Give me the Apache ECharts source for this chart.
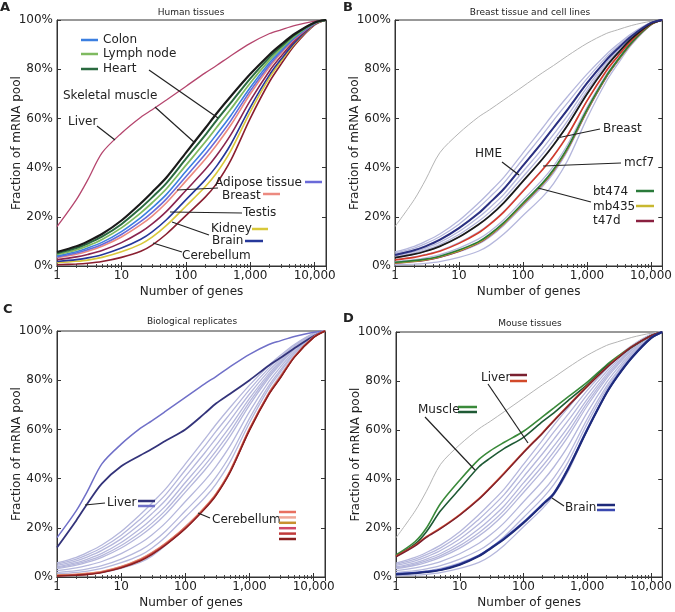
<!DOCTYPE html>
<html>
<head>
<meta charset="utf-8">
<title>Fraction of mRNA pool</title>
<script src="https://cdn.jsdelivr.net/npm/echarts@6/dist/echarts.min.js"></script>
<style>
  html, body { margin: 0; padding: 0; background: #fff; }
  #chart { width: 675px; height: 612px; }
</style>
</head>
<body>
<div id="chart"></div>
<script>
// number of genes (x) shared by every curve
var genes = [1, 2, 3, 5, 10, 20, 30, 50, 100, 200, 300, 500, 1000, 2000, 3000, 5000, 10000, 15000];
var xTicks = [1, 10, 100, 1000, 10000];
var yTicks = [0, 20, 40, 60, 80, 100];

// A - human tissues (% of mRNA pool)
var skeletalMuscle = [5.7, 8, 10, 13, 18.5, 25.5, 30, 36, 46, 56, 62, 69, 78, 86, 90, 94.5, 99, 100];
var heart          = [5.2, 7.3, 9.1, 11.9, 17, 23.6, 27.9, 33.7, 43.5, 53.2, 59.2, 66.4, 76.2, 84.9, 89.2, 94.1, 98.9, 100];
var lymphNode      = [4.7, 6.6, 8.2, 10.8, 15.5, 21.6, 25.7, 31.4, 40.9, 50.4, 56.3, 63.8, 74.4, 83.8, 88.4, 93.6, 98.8, 100];
var colon          = [4.1, 5.8, 7.3, 9.6, 14, 19.7, 23.6, 29.1, 38.4, 47.6, 53.5, 61.2, 72.6, 82.7, 87.6, 93.2, 98.7, 100];
var adipose        = [3.7, 5.3, 6.6, 8.7, 12.8, 18.1, 21.8, 27.3, 36.3, 45.4, 51.2, 59.1, 71.2, 81.8, 87, 92.8, 98.6, 100];
var breast         = [3.4, 4.8, 6, 8, 11.8, 16.8, 20.3, 25.7, 34.5, 43.4, 49.2, 57.3, 69.9, 81, 86.4, 92.5, 98.6, 100];
var testis         = [2.6, 3.7, 4.7, 6.3, 9.5, 13.8, 17.1, 22.2, 30.7, 39.2, 44.9, 53.4, 67.2, 79.4, 85.2, 91.8, 98.4, 100];
var brain          = [1.8, 2.6, 3.3, 4.6, 7.3, 10.9, 13.9, 18.8, 26.9, 35, 40.6, 49.5, 64.5, 77.8, 84, 91.1, 98.3, 100];
var kidney         = [1.3, 1.9, 2.4, 3.5, 5.8, 8.9, 11.7, 16.5, 24.3, 32.2, 37.8, 46.9, 62.7, 76.7, 83.2, 90.7, 98.2, 100];
var cerebellum     = [0.5, 0.8, 1.1, 1.8, 3.5, 6, 8.5, 13, 20.5, 28, 33.5, 43, 60, 75, 82, 90, 98, 100];
var liver          = [16, 27, 35, 46, 54, 60.5, 63.5, 67.5, 73, 78.5, 81.5, 85.5, 90.5, 94.5, 96, 97.8, 99.5, 100];

// B - breast tissue and cell lines
var hme   = [4.5, 6.4, 8, 10.6, 15.4, 21.3, 25.6, 31.3, 40.8, 50.3, 56.2, 63.7, 74.3, 83.7, 88.3, 93.5, 98.8, 100];
var mcf7  = [2.5, 3.5, 4.5, 6, 9.2, 13.4, 16.8, 21.9, 30.4, 39, 44.7, 53.2, 67.1, 79.3, 85.1, 91.8, 98.4, 100];
var bt474 = [1.5, 2.2, 2.8, 4, 6.5, 9.8, 12.8, 17.6, 25.6, 33.6, 39.2, 48.2, 63.6, 77.2, 83.6, 90.9, 98.2, 100];
var mb435 = [1.3, 2, 2.6, 3.8, 6.2, 9.5, 12.5, 17.3, 25.3, 33.3, 38.9, 47.9, 63.3, 77, 83.4, 90.8, 98.2, 100];
var t47d  = [1.1, 1.8, 2.4, 3.6, 6, 9.3, 12.3, 17.1, 25.1, 33.1, 38.7, 47.7, 63.1, 76.8, 83.3, 90.7, 98.1, 100];

// C - biological replicates
var liverRep2 = [12, 23, 30, 38, 45, 49.5, 52, 55.5, 60, 66.5, 70.5, 74.5, 80, 86, 89, 93, 98, 100];
var cereRep1 = [0.8, 1.1, 1.5, 2.3, 4.3, 7.4, 9.9, 13.9, 20.4, 28.4, 33.9, 43.4, 60.4, 74.8, 81.3, 89.7, 97.6, 100];
var cereRep2 = [0.7, 1, 1.4, 2.2, 4.2, 7.2, 9.7, 13.7, 20.2, 28.2, 33.7, 43.2, 60.2, 74.7, 81.2, 89.6, 97.6, 100];
var cereRep3 = [0.6, 0.9, 1.3, 2.1, 4.1, 7.1, 9.6, 13.6, 20.1, 28.1, 33.6, 43.1, 60.1, 74.6, 81.1, 89.5, 97.5, 100];
var cereRep4 = [0.5, 0.8, 1.2, 2, 4, 7, 9.5, 13.5, 20, 28, 33.5, 43, 60, 74.5, 81, 89.5, 97.5, 100];
var cereRep5 = [0.5, 0.8, 1.1, 1.9, 3.8, 6.8, 9.3, 13.3, 19.8, 27.8, 33.3, 42.8, 59.8, 74.3, 80.9, 89.4, 97.4, 100];
var cereRep6 = [0.4, 0.7, 1, 1.8, 3.7, 6.6, 9.1, 13.1, 19.6, 27.6, 33.1, 42.6, 59.6, 74.1, 80.7, 89.3, 97.4, 100];

// D - mouse tissues
var muscleM1 = [9, 14.5, 20, 30, 39.5, 48, 51.5, 55, 59.5, 65.5, 69, 73.5, 79.5, 86.5, 90, 94, 98.5, 100];
var muscleM2 = [8.5, 13.5, 18.5, 27, 36, 45, 48.5, 52.5, 57, 63.5, 67, 72, 78.5, 86, 89.5, 93.8, 98.5, 100];
var liverM1  = [8.5, 13, 16.5, 20, 25.5, 32, 36.5, 42.5, 51, 59, 64, 70, 78, 85.5, 89.5, 94, 98.5, 100];
var liverM2  = [8.2, 12.7, 16.2, 19.7, 25.2, 31.7, 36.2, 42.2, 50.7, 58.7, 63.7, 69.7, 77.7, 85.3, 89.3, 93.9, 98.5, 100];
var brainM1  = [1, 1.5, 2, 2.8, 5, 8.5, 11.5, 15.5, 22, 29.5, 34, 44, 60, 75, 82, 89.5, 97.5, 100];
var brainM2  = [1.2, 1.7, 2.2, 3, 5.2, 8.7, 11.7, 15.8, 22.3, 29.8, 34.3, 44.3, 60.3, 75.2, 82.2, 89.6, 97.6, 100];

var background = [skeletalMuscle, heart, lymphNode, colon, adipose, breast, testis, brain, kidney, cerebellum];

var FONT = 'DejaVu Sans';
var LAV = '#b5b7dc';

function curve(name, ys, idx, color, width, z) {
  return {
    name: name, type: 'line', xAxisIndex: idx, yAxisIndex: idx,
    data: genes.map(function (g, i) { return [g, ys[i]]; }),
    smooth: 0.3, symbol: 'none', silent: true,
    lineStyle: { color: color, width: width },
    z: z || 3
  };
}

var series = [];
// A
series.push(curve('Liver', liver, 0, '#b5466e', 1.3));
series.push(curve('Cerebellum', cerebellum, 0, '#8a1f30', 1.6));
series.push(curve('Kidney', kidney, 0, '#d8c83a', 1.6));
series.push(curve('Brain', brain, 0, '#26389a', 1.6));
series.push(curve('Testis', testis, 0, '#8a2550', 1.6));
series.push(curve('Breast', breast, 0, '#ec8a80', 1.6));
series.push(curve('Adipose tissue', adipose, 0, '#6a6ad8', 1.6));
series.push(curve('Colon', colon, 0, '#3b7fe0', 1.6));
series.push(curve('Lymph node', lymphNode, 0, '#7fba60', 1.8));
series.push(curve('Heart', heart, 0, '#2a6a40', 2));
series.push(curve('Skeletal muscle', skeletalMuscle, 0, '#1a1a1a', 2.2));

// B, C, D light background curves
[1, 2, 3].forEach(function (k) {
  background.forEach(function (ys, j) {
    series.push(curve('bg' + k + '_' + j, ys, k, LAV, 1.3, 1));
  });
});
series.push(curve('gray', liver, 1, '#b4b4b4', 1, 1));
series.push(curve('gray', liver, 3, '#b4b4b4', 1, 1));

// B
series.push(curve('t47d', t47d, 1, '#8a2040', 1.6));
series.push(curve('mb435', mb435, 1, '#c8b830', 1.6));
series.push(curve('bt474', bt474, 1, '#2a7a3a', 1.6));
series.push(curve('mcf7', mcf7, 1, '#d43a2a', 1.6));
series.push(curve('Breast', breast, 1, '#1a1a1a', 1.8));
series.push(curve('HME', hme, 1, '#2a2f80', 2));

// C
series.push(curve('Liver 1', liver, 2, '#7070c8', 1.5));
series.push(curve('Liver 2', liverRep2, 2, '#33337a', 1.8));
series.push(curve('Cerebellum 1', cereRep1, 2, '#e87060', 1.4));
series.push(curve('Cerebellum 2', cereRep2, 2, '#f0a898', 1.4));
series.push(curve('Cerebellum 3', cereRep3, 2, '#c89030', 1.4));
series.push(curve('Cerebellum 4', cereRep4, 2, '#d04868', 1.4));
series.push(curve('Cerebellum 5', cereRep5, 2, '#c03a3a', 1.4));
series.push(curve('Cerebellum 6', cereRep6, 2, '#8a2020', 1.4));

// D
series.push(curve('Muscle 1', muscleM1, 3, '#3a8a3a', 1.6));
series.push(curve('Muscle 2', muscleM2, 3, '#1f5a35', 1.6));
series.push(curve('Liver 1', liverM1, 3, '#d24a2a', 1.6));
series.push(curve('Liver 2', liverM2, 3, '#7a2030', 1.4));
series.push(curve('Brain 1', brainM2, 3, '#3a48b0', 2));
series.push(curve('Brain 2', brainM1, 3, '#1e2a7a', 2));

var grids = [
  { left: 57, top: 20, width: 269, height: 246 },
  { left: 395, top: 20, width: 270, height: 246 },
  { left: 57, top: 331, width: 268, height: 246 },
  { left: 396, top: 332, width: 269, height: 245 }
];

function xLabel(v) {
  for (var i = 0; i < xTicks.length; i++) {
    if (Math.abs(v - xTicks[i]) < 1e-6 * xTicks[i]) return xTicks[i].toLocaleString('en-US');
  }
  return '';
}

var tickStyle = { inside: true, length: 4, lineStyle: { color: '#333' } };
var minorStyle = { show: true, splitNumber: 9, length: 2, lineStyle: { color: '#444' } };

var xAxes = grids.map(function (g, i) {
  return {
    type: 'log', logBase: 10, gridIndex: i, min: 1, max: 15000,
    name: 'Number of genes', nameLocation: 'middle', nameGap: 20, nameMoveOverlap: false,
    nameTextStyle: { fontFamily: FONT, fontSize: 12, color: '#222' },
    axisLine: { lineStyle: { color: '#333', width: 1 } },
    axisTick: tickStyle, minorTick: minorStyle,
    axisLabel: { formatter: xLabel, fontFamily: FONT, fontSize: 12, color: '#222', margin: 4, showMaxLabel: false },
    splitLine: { show: false }
  };
});
// mirrored tick marks on the top edge
grids.forEach(function (g, i) {
  xAxes.push({
    type: 'log', logBase: 10, gridIndex: i, min: 1, max: 15000, position: 'top',
    axisLine: { lineStyle: { color: '#333', width: 1 } },
    axisTick: tickStyle, minorTick: minorStyle,
    axisLabel: { show: false }, splitLine: { show: false }
  });
});

var yAxes = grids.map(function (g, i) {
  return {
    type: 'value', gridIndex: i, min: yTicks[0], max: yTicks[yTicks.length - 1], interval: 20,
    name: 'Fraction of mRNA pool', nameLocation: 'middle', nameGap: 34, nameRotate: 90, nameMoveOverlap: false,
    nameTextStyle: { fontFamily: FONT, fontSize: 12, color: '#222' },
    axisLine: { show: true, lineStyle: { color: '#333', width: 1 } },
    axisTick: tickStyle,
    axisLabel: { formatter: '{value}%', fontFamily: FONT, fontSize: 12, color: '#222', margin: 4 },
    splitLine: { show: false }
  };
});
// mirrored tick marks on the right edge
grids.forEach(function (g, i) {
  yAxes.push({
    type: 'value', gridIndex: i, min: 0, max: 100, interval: 20, position: 'right',
    axisLine: { show: true, lineStyle: { color: '#333', width: 1 } },
    axisTick: tickStyle, axisLabel: { show: false }, splitLine: { show: false }
  });
});

// annotation helpers
var G = [];
function txt(x, y, s, size, weight, align) {
  G.push({
    type: 'text', silent: true, z: 10,
    style: { x: x, y: y, text: s, fill: '#222', textAlign: align || 'left', textVerticalAlign: 'middle',
      font: (weight || 'normal') + ' ' + (size || 12) + 'px "' + FONT + '"' }
  });
}
function seg(x1, y1, x2, y2, color, w) {
  G.push({
    type: 'line', silent: true, z: 10,
    shape: { x1: x1, y1: y1, x2: x2, y2: y2 },
    style: { stroke: color || '#222', lineWidth: w || 1.2 }
  });
}

// panel letters and titles
txt(0, 8, 'A', 13, 'bold');
txt(343, 8, 'B', 13, 'bold');
txt(3, 310, 'C', 13, 'bold');
txt(343, 319, 'D', 13, 'bold');
txt(191, 13, 'Human tissues', 9, 'normal', 'center');
txt(530, 13, 'Breast tissue and cell lines', 9, 'normal', 'center');
txt(192, 322, 'Biological replicates', 9, 'normal', 'center');
txt(530, 324, 'Mouse tissues', 9, 'normal', 'center');

// A legend + labels
seg(81, 40, 98, 40, '#3b7fe0', 2.5); txt(103, 40, 'Colon');
seg(81, 54, 98, 54, '#7fba60', 2.5); txt(103, 54, 'Lymph node');
seg(81, 69, 98, 69, '#2a6a40', 2.5); txt(103, 69, 'Heart');
seg(149, 70, 218, 118);
txt(63, 96, 'Skeletal muscle'); seg(155, 107, 195, 143);
txt(68, 122, 'Liver'); seg(97, 126, 115, 140);
txt(302, 183, 'Adipose tissue', 12, 'normal', 'right'); seg(305, 182, 322, 182, '#6a6ad8', 2.5);
seg(218, 188, 177, 190);
txt(222, 196, 'Breast'); seg(263, 194, 280, 194, '#ec8a80', 2.5);
txt(243, 213, 'Testis'); seg(242, 213, 170, 212);
txt(211, 229, 'Kidney'); seg(252, 229, 268, 229, '#d8c83a', 2.5);
seg(209, 235, 172, 222);
txt(212, 241, 'Brain'); seg(245, 241, 263, 241, '#26389a', 2.5);
txt(182, 256, 'Cerebellum'); seg(182, 252, 153, 243);

// B labels
txt(475, 154, 'HME'); seg(502, 162, 519, 175);
txt(603, 129, 'Breast'); seg(600, 129, 557, 138);
txt(624, 163, 'mcf7'); seg(621, 163, 543, 166);
txt(593, 192, 'bt474'); seg(636, 191, 654, 191, '#2a7a3a', 2.5);
txt(593, 207, 'mb435'); seg(636, 206, 654, 206, '#c8b830', 2.5);
txt(593, 221, 't47d'); seg(636, 221, 654, 221, '#8a2040', 2.5);
seg(591, 202, 538, 188);

// C labels
txt(107, 503, 'Liver'); seg(105, 503, 85, 505);
seg(138, 501, 155, 501, '#33337a', 2.5);
seg(138, 506, 155, 506, '#7070c8', 2.5);
txt(212, 520, 'Cerebellum'); seg(210, 518, 198, 513);
var cereSwatch = ['#e87060', '#f0a898', '#c89030', '#d04868', '#c03a3a', '#8a2020'];
cereSwatch.forEach(function (c, i) {
  seg(279, 512 + i * 5.4, 296, 512 + i * 5.4, c, 2.5);
});

// D labels
txt(481, 378, 'Liver'); seg(510, 375, 527, 375, '#7a2030', 2.5); seg(510, 381, 527, 381, '#d24a2a', 2.5);
seg(488, 384, 528, 443);
txt(418, 410, 'Muscle'); seg(458, 407, 477, 407, '#3a8a3a', 2.5); seg(458, 412, 477, 412, '#1f5a35', 2.5);
seg(425, 417, 475, 470);
txt(565, 508, 'Brain'); seg(597, 505, 615, 505, '#1e2a7a', 2.5); seg(597, 510, 615, 510, '#3a48b0', 2.5);
seg(564, 506, 552, 498);

var chart = echarts.init(document.getElementById('chart'));
chart.setOption({
  animation: false,
  backgroundColor: '#fff',
  grid: grids.map(function (g) {
    return Object.assign({ show: true, borderColor: '#333', borderWidth: 1, backgroundColor: 'transparent' }, g);
  }),
  xAxis: xAxes,
  yAxis: yAxes,
  series: series,
  graphic: G
});
</script>
</body>
</html>
